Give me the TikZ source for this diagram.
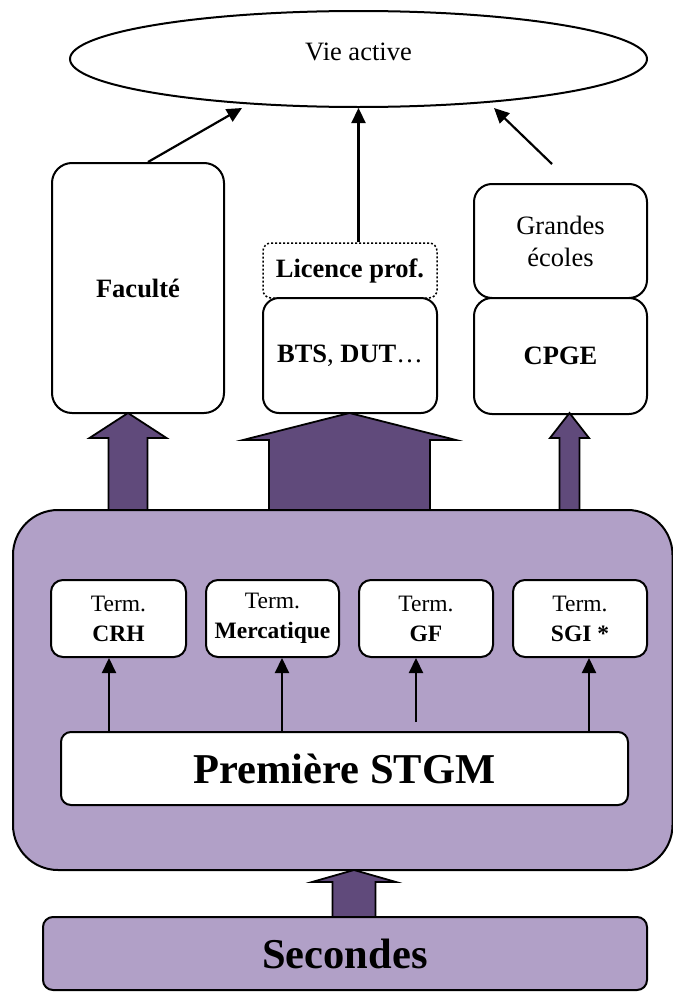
\documentclass[tikz,border=0pt]{standalone}
\usepackage{fontspec}
\setmainfont{Liberation Serif}
\newfontfamily\timesfont{Liberation Serif}
\usetikzlibrary{shapes.geometric,arrows.meta,calc}
\definecolor{lightpurple}{HTML}{B1A0C7}
\definecolor{darkpurple}{HTML}{604A7B}
\newcommand\mainsize{\timesfont\fontsize{26.5}{32}\selectfont}
\newcommand\termsize{\timesfont\fontsize{23.5}{30}\selectfont}
\newcommand\bigsize{\timesfont\fontsize{42.5}{50}\selectfont}
% block arrow: tip x, tip y, head half width, shaft half width, head base y, bottom y
\newcommand\blockarr[6]{%
  \draw[blockarrow] (#1,#2) -- (#1+#3,#5) -- (#1+#4,#5) -- (#1+#4,#6)
    -- (#1-#4,#6) -- (#1-#4,#5) -- (#1-#3,#5) -- cycle;}
\begin{document}
\begin{tikzpicture}[x=1pt,y=-1pt,
  box/.style={draw=black, line width=2pt, fill=white, rounded corners=#1,
    inner sep=0pt, align=center, font=\mainsize},
  box/.default=18pt,
  termbox/.style={box=12pt, minimum width=134pt, minimum height=77pt, font=\termsize},
  blockarrow/.style={draw=black, line width=1.8pt, fill=darkpurple, line join=miter},
  conn/.style={line width=2.2pt, -{Triangle[length=15pt,width=14pt]}}]
\useasboundingbox (0,0) rectangle (672,993);

% top ellipse
\node[draw, line width=2pt, ellipse, minimum width=577pt, minimum height=96pt,
  inner sep=0pt] (vie) at (358.5,59) {};
\node[font=\mainsize, inner sep=0pt] (vietext) at (358.5,52) {Vie active};

% higher education boxes
\node[box=20pt, minimum width=172pt, minimum height=250pt] (fac) at (138,288) {\textbf{Faculté}};
\node[box=8pt, dotted, line width=1.5pt, minimum width=174pt, minimum height=55pt] (lic) at (350,270.5) {\textbf{Licence prof.}};
\node[box=16pt, minimum width=174pt, minimum height=115pt] (bts) at (350,355.5) {\textbf{BTS}, \textbf{DUT}\dots};
\node[box=18pt, minimum width=173pt, minimum height=114pt] (ge) at (560.5,241) {Grandes\\écoles};
\node[box=18pt, minimum width=173pt, minimum height=116pt] (cpge) at (560.5,356) {\textbf{CPGE}};

% arrows to "Vie active"
\draw[conn] ([xshift=10pt]fac.north) -- ([xshift=-116.5pt]vie.south);
\draw[conn] (lic.north -| vie.south) -- (vie.south);
\coordinate (gestart) at ([shift={(-8.5,-19)}]ge.north);
\draw[conn] (gestart) -- ([xshift=135.5pt]vie.south);

% big purple box
\node[draw=black, line width=2pt, fill=lightpurple, rounded corners=45pt,
  minimum width=659.5pt, minimum height=360pt, inner sep=0pt] (big) at (342.75,690) {};

% block arrows up from the big box
\blockarr{128}{413}{38.5}{19.5}{438}{510}
\blockarr{349.5}{413}{106.5}{80.5}{440}{510}
\blockarr{569.5}{413}{19.5}{10}{438}{510}

% terminal boxes
\node[termbox, minimum width=135pt] (crh) at (118.5,618.5) {Term.\\\textbf{CRH}};
\node[termbox, minimum width=133pt] (merc) at (272.5,618.5) {Term.\\\textbf{Mercatique}};
\node[termbox] (gf) at (426,618.5) {Term.\\\textbf{GF}};
\node[termbox] (sgi) at (580,618.5) {Term.\\\textbf{SGI *}};

% Première
\node[box=10pt, minimum width=567pt, minimum height=73pt, font=\bigsize] (prem) at (344.5,768.5) {\textbf{Première STGM}};

% arrows Première -> terminales
\draw[conn] ([xshift=-9.5pt]crh.south |- prem.north) -- ([xshift=-9.5pt]crh.south);
\draw[conn] ([xshift=9.5pt]merc.south |- prem.north) -- ([xshift=9.5pt]merc.south);
\coordinate (gfstart) at ([shift={(-10,-9)}]gf.south |- prem.north);
\draw[conn] (gfstart) -- ([xshift=-10pt]gf.south);
\draw[conn] ([xshift=9pt]sgi.south |- prem.north) -- ([xshift=9pt]sgi.south);

% Secondes
\node[box=10pt, fill=lightpurple, minimum width=604pt, minimum height=73pt, font=\bigsize] (sec) at (345,953.5) {\textbf{Secondes}};
\blockarr{354}{870}{42}{21.5}{882}{917}
\end{tikzpicture}
\end{document}
